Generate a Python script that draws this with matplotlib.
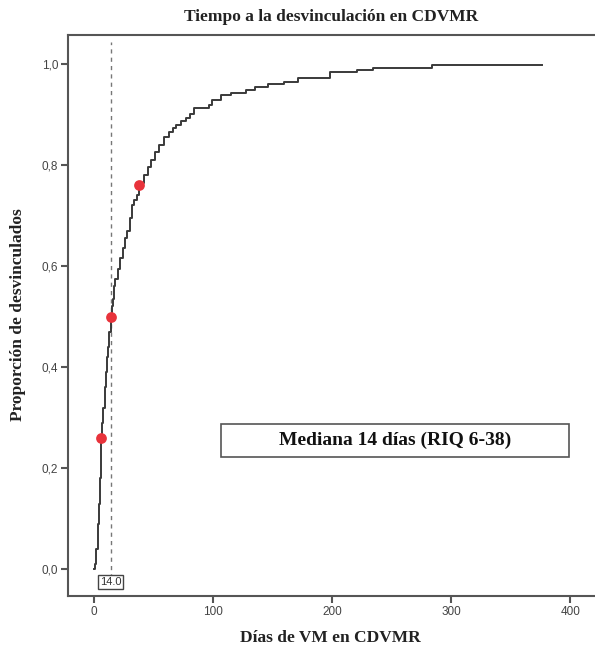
import matplotlib
matplotlib.use("Agg")
import matplotlib.pyplot as plt
from matplotlib.patches import Rectangle

# Data: cumulative proportion of weaned patients (step curve)
days = [0, 1, 2, 3, 4, 5, 6, 7, 8, 9, 10, 11, 12, 13, 14, 15, 16, 17, 18, 20, 22, 24, 26, 28,
        30, 32, 34, 36, 38, 40, 42, 45, 48, 51, 55, 59, 63, 66, 69, 73, 77, 81, 84, 97, 99,
        107, 115, 128, 135, 146, 160, 171, 198, 221, 234, 284, 376]
prop = [0.0, 0.01, 0.04, 0.09, 0.13, 0.18, 0.26, 0.29, 0.32, 0.36, 0.39, 0.42, 0.44, 0.47,
        0.50, 0.52, 0.535, 0.56, 0.575, 0.595, 0.615, 0.635, 0.655, 0.67, 0.695, 0.72, 0.73,
        0.74, 0.755, 0.765, 0.78, 0.795, 0.81, 0.825, 0.84, 0.855, 0.865, 0.872, 0.879, 0.886,
        0.892, 0.90, 0.913, 0.919, 0.929, 0.938, 0.943, 0.948, 0.955, 0.96, 0.964, 0.972,
        0.984, 0.988, 0.992, 0.997, 0.997]

quart_days = [6, 14, 38]
quart_prop = [0.26, 0.50, 0.76]

median_day = 14
xticks = [0, 100, 200, 300, 400]
yticks = [0.0, 0.2, 0.4, 0.6, 0.8, 1.0]
ytick_labels = ["0,0", "0,2", "0,4", "0,6", "0,8", "1,0"]

title = "Tiempo a la desvinculación en CDVMR"
xlabel = "Días de VM en CDVMR"
ylabel = "Proporción de desvinculados"
box_text = "Mediana 14 días (RIQ 6-38)"

serif = ["Liberation Serif", "DejaVu Serif"]
narrow = ["Liberation Sans Narrow", "Liberation Sans", "DejaVu Sans"]

fig = plt.figure(figsize=(5.95, 6.48), dpi=100)
ax = fig.add_axes([0.1143, 0.0802, 0.884, 0.8658])

spine_c = "#555555"
ax.step(days, prop, where="post", color="#3a3a3a", lw=1.4, zorder=3)
ax.scatter(quart_days, quart_prop, s=60, color="#e8333b", zorder=4, linewidths=0)

ax.axvline(median_day, ymin=0.032, ymax=0.987, color="#777777", lw=1.0,
           linestyle=(0, (3, 3)), zorder=2)

ax.annotate(f"{median_day:.1f}", xy=(median_day, 0.016), xycoords=("data", "axes fraction"),
            ha="center", va="bottom", fontsize=8, family=narrow, color="#333333",
            bbox=dict(boxstyle="square,pad=0.15", fc="white", ec="#444444", lw=1.0))

ax.add_patch(Rectangle((0.290, 0.248), 0.663, 0.059, transform=ax.transAxes,
                       fill=False, ec="#555555", lw=1.2, zorder=5))
ax.text(0.6215, 0.2775, box_text, transform=ax.transAxes, ha="center", va="center",
        fontsize=14, fontweight="bold", family=serif, color="#111111", zorder=6)

ax.set_xlim(-21.8, 420)
ax.set_ylim(-0.053, 1.057)
ax.set_xticks(xticks)
ax.set_xticklabels([str(t) for t in xticks], family=narrow, fontsize=8.5, color="#444444")
ax.set_yticks(yticks)
ax.set_yticklabels(ytick_labels, family=narrow, fontsize=8.5, color="#444444")
ax.tick_params(direction="out", length=5, width=1.5, color=spine_c, pad=2)

for side in ["left", "bottom", "top"]:
    ax.spines[side].set_color(spine_c)
    ax.spines[side].set_linewidth(1.5)
ax.spines["right"].set_visible(False)

fig.text(0.556, 0.973, title, ha="center", va="center", fontsize=12.5, fontweight="bold",
         family=serif, color="#222222")
fig.text(0.556, 0.015, xlabel, ha="center", va="center", fontsize=12.5, fontweight="bold",
         family=serif, color="#222222")
fig.text(0.031, 0.514, ylabel, ha="center", va="center", rotation=90, fontsize=12.5,
         fontweight="bold", family=serif, color="#222222")

fig.savefig("out.png", dpi=100)
